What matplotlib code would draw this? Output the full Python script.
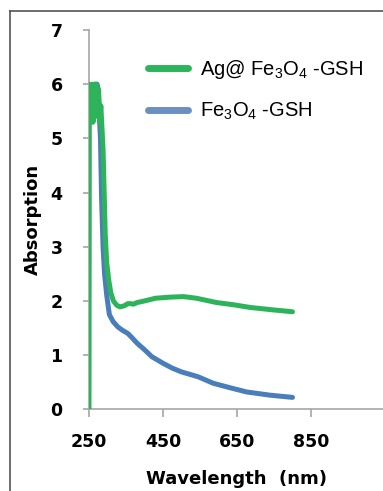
import matplotlib
matplotlib.use("Agg")
import matplotlib.pyplot as plt
from matplotlib.lines import Line2D

# Ag@Fe3O4-GSH
wl_ag = [250, 251, 255, 258, 261, 264, 267, 270, 273, 276, 279, 282, 285, 288, 291, 294,
         298, 303, 309, 316, 325, 334, 345, 355, 362, 370, 380, 400, 430, 470, 505, 540, 595,
         640, 685, 740, 800]
abs_ag = [0.0, 6.0, 5.6, 6.0, 5.3, 6.0, 5.4, 6.0, 5.5, 5.9, 5.3, 5.6, 5.2, 4.8, 4.0, 3.2,
          2.7, 2.4, 2.15, 2.0, 1.92, 1.89, 1.91, 1.95, 1.95, 1.94, 1.97, 2.0, 2.05, 2.07, 2.08, 2.05, 1.97,
          1.93, 1.88, 1.84, 1.80]

# Fe3O4-GSH
wl_fe = [255, 258, 262, 266, 272, 275, 278, 281, 284, 288, 292, 298, 305, 315, 328, 340,
         355, 365, 380, 400, 420, 450, 475, 500, 545, 586, 630, 676, 740, 800]
abs_fe = [5.6, 5.3, 5.7, 6.0, 6.0, 5.9, 5.4, 5.0, 3.9, 3.0, 2.5, 2.1, 1.75, 1.62, 1.52, 1.46,
          1.4, 1.33, 1.22, 1.1, 0.97, 0.85, 0.76, 0.69, 0.6, 0.48, 0.4, 0.32, 0.26, 0.22]

xticks = [250, 450, 650, 850]
yticks = [0, 1, 2, 3, 4, 5, 6, 7]

plt.rcParams["mathtext.fontset"] = "custom"
plt.rcParams["mathtext.rm"] = "Liberation Sans"
plt.rcParams["mathtext.it"] = "Liberation Sans"

W, H = 383, 491
fig = plt.figure(figsize=(W / 100, H / 100), dpi=100)
fig.patch.set_facecolor("white")

x0, x1 = 89, 385
y0, y1 = 409.3, 30
ax = fig.add_axes([x0 / W, (H - y0) / H, (x1 - x0) / W, (y0 - y1) / H])

green = "#2db45a"
blue = "#4a7ebb"
ax.plot(wl_fe, abs_fe, color=blue, lw=3.6, solid_capstyle="round", solid_joinstyle="round",
        label="Fe$_3$O$_4$-GSH", zorder=2)
ax.plot(wl_ag, abs_ag, color=green, lw=3.6, solid_capstyle="round", solid_joinstyle="round",
        label="Ag@ Fe$_3$O$_4$-GSH", zorder=3)

ax.set_xlim(250, 1050)
ax.set_ylim(0, 7)
ax.set_xticks(xticks)
ax.set_yticks(yticks)
tick_font = dict(fontfamily="DejaVu Sans", fontweight="bold", fontsize=12.5)
ax.set_xticklabels([str(v) for v in xticks], **tick_font)
ax.set_yticklabels([str(v) for v in yticks], **tick_font)

for s in ["top", "right"]:
    ax.spines[s].set_visible(False)
for s in ["left", "bottom"]:
    ax.spines[s].set_color("#a6a6a6")
    ax.spines[s].set_linewidth(1.2)
ax.tick_params(axis="both", colors="#a6a6a6", labelcolor="black", width=1.2, direction="out")
ax.tick_params(axis="y", length=4, pad=15)
ax.tick_params(axis="x", length=6, pad=11)

ax.set_ylabel("Absorption", fontfamily="DejaVu Sans", fontweight="bold", fontsize=13,
              labelpad=6)
ax.set_xlabel("Wavelength  (nm)", fontfamily="DejaVu Sans", fontweight="bold",
              fontsize=13, labelpad=14)

h_fe, h_ag = ax.get_lines()
leg = ax.legend([h_ag, h_fe], ["Ag@ Fe$_3$O$_4$ -GSH", "Fe$_3$O$_4$ -GSH"],
                loc="upper left", bbox_to_anchor=(140 / W, (H - 50) / H),
                bbox_transform=fig.transFigure, frameon=False,
                prop={"family": "Liberation Sans", "size": 14.5},
                handlelength=2.0, handletextpad=0.6, labelspacing=1.0, borderaxespad=0)
for line in leg.get_lines():
    line.set_linewidth(5)
leg.get_lines()[1].set_color("#6a8fc0")

# outer frame (left and top edges)
fig.add_artist(Line2D([9.5 / W, 9.5 / W], [0, (H - 11) / H], transform=fig.transFigure,
                      color="#555555", lw=1.2))
fig.add_artist(Line2D([9.5 / W, 1], [(H - 11) / H, (H - 11) / H], transform=fig.transFigure,
                      color="#555555", lw=1.2))

fig.savefig("out.png", dpi=100)
